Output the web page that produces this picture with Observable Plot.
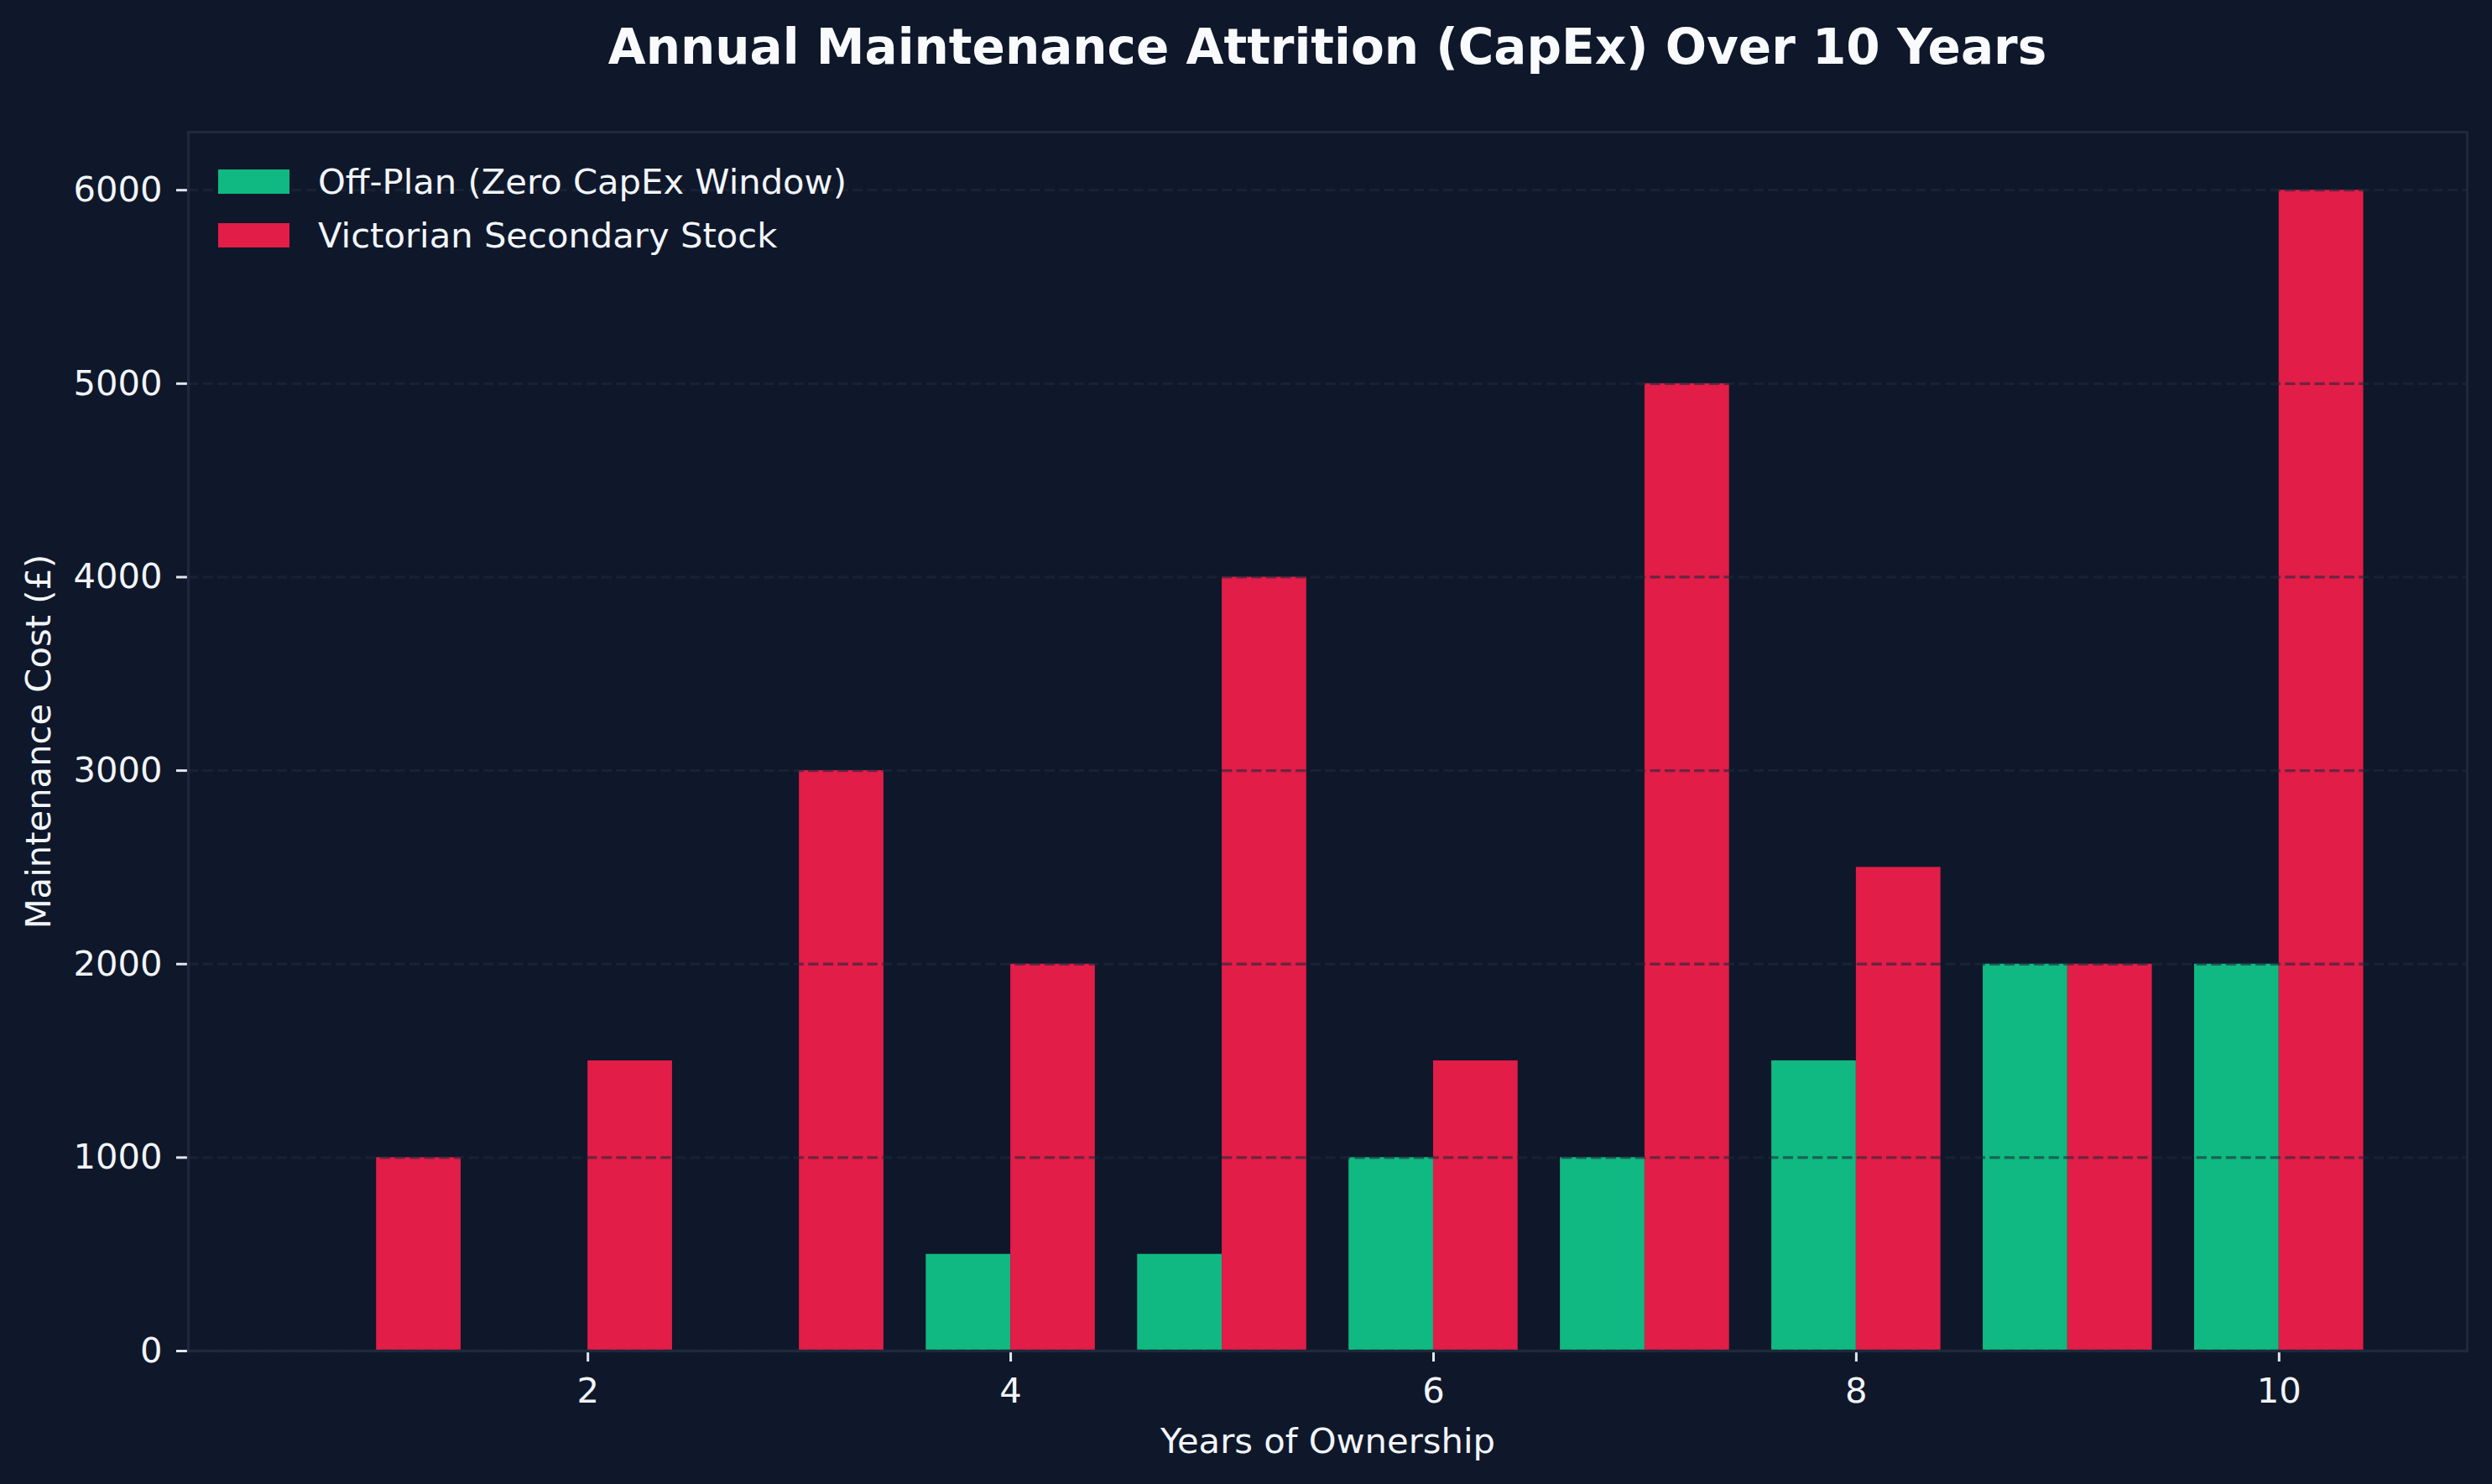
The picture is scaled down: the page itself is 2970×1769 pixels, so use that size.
<!DOCTYPE html>
<html>
<head>
<meta charset="utf-8">
<script src="https://cdn.jsdelivr.net/npm/d3@7"></script>
<script src="https://cdn.jsdelivr.net/npm/@observablehq/plot@0.6"></script>
<style>
  html, body { margin: 0; padding: 0; background: #0f172a; }
  #wrap { position: relative; width: 2970px; height: 1769px; background: #0f172a; font-family: "DejaVu Sans", sans-serif; }
  #title { position: absolute; left: 224px; width: 2716px; top: 27px; text-align: center;
           font-size: 58px; line-height: 1; font-weight: bold; color: #f8fafc; }
  #chart { position: absolute; left: 0; top: 110px; }
  .legend { position: absolute; left: 260px; top: 184px; color: #f1f5f9; font-size: 41.7px; }
  .legend .item { display: flex; align-items: center; height: 64px; }
  .legend .sw { width: 85px; height: 29px; margin-right: 34px; }
</style>
</head>
<body>
<div id="wrap">
  <div id="title">Annual Maintenance Attrition (CapEx) Over 10 Years</div>
  <div id="chart"></div>
  <div class="legend" id="legend"></div>
</div>
<script>
// Maintenance cost per year of ownership, in £
const years = [1, 2, 3, 4, 5, 6, 7, 8, 9, 10];
const offPlan = [0, 0, 0, 500, 500, 1000, 1000, 1500, 2000, 2000];
const victorian = [1000, 1500, 3000, 2000, 4000, 1500, 5000, 2500, 2000, 6000];
const seriesNames = ["Off-Plan (Zero CapEx Window)", "Victorian Secondary Stock"];
const seriesColors = ["#10b981", "#e11d48"];
const xTicks = [2, 4, 6, 8, 10];
const yTicks = [0, 1000, 2000, 3000, 4000, 5000, 6000];
const xLabel = "Years of Ownership";
const yLabel = "Maintenance Cost (£)";

const barWidth = 0.4;

// Off-plan bars sit left of each year, Victorian bars right of it
const rows = [
  ...years.map((yr, i) => ({year: yr, value: offPlan[i], series: seriesNames[0], offset: -barWidth})),
  ...years.map((yr, i) => ({year: yr, value: victorian[i], series: seriesNames[1], offset: 0}))
];

const textColor = "#f1f5f9";
const spineColor = "#1e293b";

const chart = Plot.plot({
  width: 2970,
  height: 1659,
  marginTop: 47,
  marginBottom: 159,
  marginLeft: 224,
  marginRight: 30,
  style: {background: "#0f172a", color: textColor, fontFamily: "DejaVu Sans, sans-serif", fontSize: "41.7px"},
  x: {domain: [0.11, 10.89]},
  y: {domain: [0, 6300]},
  color: {domain: seriesNames, range: seriesColors},
  marks: [
    Plot.rect(rows, {
      x1: d => d.year + d.offset,
      x2: d => d.year + d.offset + barWidth,
      y1: 0,
      y2: "value",
      fill: "series"
    }),
    Plot.gridY(yTicks, {stroke: spineColor, strokeOpacity: 0.6, strokeWidth: 3.3, strokeDasharray: "12.3,5.3"}),
    Plot.axisX({ticks: xTicks, tickFormat: d3.format("d"), tickSize: 13, tickPadding: 19, fontSize: 41.7, stroke: "#e2e8f0", fill: textColor, strokeWidth: 3, label: null}),
    Plot.axisY({ticks: yTicks, tickFormat: d3.format("d"), tickSize: 14, tickPadding: 17, fontSize: 41.7, stroke: "#e2e8f0", fill: textColor, strokeWidth: 3, label: null}),
    Plot.text([xLabel], {text: d => d, frameAnchor: "bottom", lineAnchor: "middle", dy: 108, fontSize: 41.7, fill: textColor}),
    Plot.text([yLabel], {text: d => d, frameAnchor: "left", textAnchor: "middle", lineAnchor: "middle", rotate: -90, dx: -178, fontSize: 41.7, fill: textColor}),
    Plot.frame({stroke: spineColor, strokeWidth: 3.3})
  ]
});
document.getElementById("chart").appendChild(chart);

// Legend in the upper-left corner of the plot area
const legend = document.getElementById("legend");
seriesNames.forEach((name, i) => {
  const item = document.createElement("div");
  item.className = "item";
  const sw = document.createElement("div");
  sw.className = "sw";
  sw.style.background = seriesColors[i];
  const label = document.createElement("span");
  label.textContent = name;
  item.appendChild(sw);
  item.appendChild(label);
  legend.appendChild(item);
});
</script>
</body>
</html>
